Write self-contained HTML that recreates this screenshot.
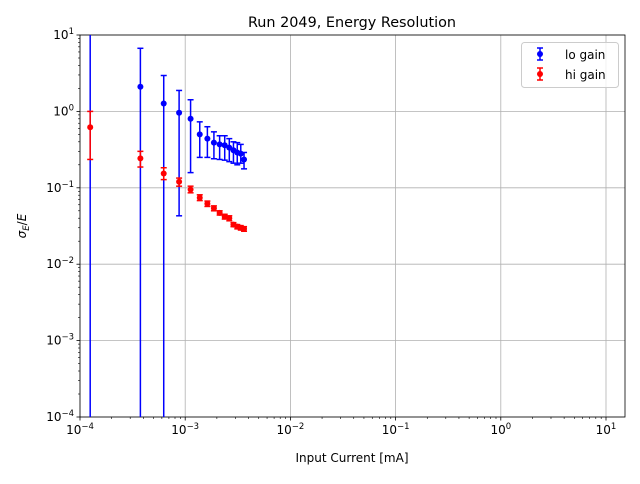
<!DOCTYPE html>
<html><head><meta charset="utf-8"><style>
body{margin:0;background:#fff;font-family:"DejaVu Sans","Liberation Sans",sans-serif}
svg text{font-family:"DejaVu Sans","Liberation Sans",sans-serif}
</style></head><body>
<svg id="c" width="640" height="480" xmlns="http://www.w3.org/2000/svg"></svg>
<script>
const xVals=[0.000125,0.000375,0.000625,0.000875,0.001125,0.001375,0.001625,0.001875,0.002125,0.002375,0.002625,0.002875,0.003125,0.003375,0.003625];
const loVals=[15,2.1,1.27,0.96,0.80,0.50,0.44,0.39,0.37,0.36,0.335,0.31,0.29,0.28,0.235];
const loUp=[30,6.7,2.95,1.88,1.42,0.73,0.63,0.54,0.48,0.48,0.44,0.40,0.39,0.37,0.29];
const loDn=[0.00001,0.00001,0.00001,0.043,0.158,0.25,0.25,0.24,0.235,0.23,0.22,0.21,0.2,0.21,0.177];
const hiVals=[0.62,0.243,0.154,0.12,0.095,0.074,0.062,0.054,0.047,0.042,0.040,0.033,0.031,0.030,0.029];
const hiUp=[1.0,0.30,0.183,0.134,0.105,0.081,0.067,0.058,0.050,0.045,0.043,0.035,0.033,0.032,0.031];
const hiDn=[0.235,0.187,0.128,0.105,0.086,0.068,0.057,0.050,0.044,0.039,0.037,0.031,0.029,0.028,0.027];
const xTickExp=[-4,-3,-2,-1,0,1];
const yTickExp=[1,0,-1,-2,-3,-4];
const L=80,R=625,T=35,B=417,DX=105.2;
const X=v=>L+(Math.log10(v)+4)*DX;
const Y=v=>B-(Math.log10(v)+4)*(B-T)/5;
const s=document.getElementById('c'),NS='http://www.w3.org/2000/svg';
function el(t,a,p){const e=document.createElementNS(NS,t);for(const k in a)e.setAttribute(k,a[k]);(p||s).appendChild(e);return e;}
const defs=el('defs',{});const cp=el('clipPath',{id:'pc'},defs);el('rect',{x:L,y:T,width:R-L,height:B-T},cp);
const grid=el('g',{});


xTickExp.forEach(e=>{const x=X(Math.pow(10,e));el('line',{x1:x,x2:x,y1:T,y2:B,stroke:'#b0b0b0','stroke-width':0.8},grid);});
yTickExp.forEach(e=>{const y=Y(Math.pow(10,e));el('line',{x1:L,x2:R,y1:y,y2:y,stroke:'#b0b0b0','stroke-width':0.8},grid);});
// minor ticks
const ax=el('g',{});


for(let e=-4;e<=1;e++){for(let m=2;m<=9;m++){const v=m*Math.pow(10,e);const x=X(v);if(x<R){el('line',{x1:x,x2:x,y1:B,y2:B+2,stroke:'#000','stroke-width':0.6},ax);}
 if(e<1){const y=Y(v);el('line',{x1:L,x2:L-2,y1:y,y2:y,stroke:'#000','stroke-width':0.6},ax);}}}
function sup(g,x,y,anchor,e){const t=el('text',{x:x,y:y,'font-size':12,'text-anchor':anchor},g);t.textContent='10';const ts=el('tspan',{dy:-5,'font-size':8.5},t);ts.textContent=String(e).replace('-','−');return t;}
xTickExp.forEach(e=>{const x=X(Math.pow(10,e));el('line',{x1:x,x2:x,y1:B,y2:B+3.5,stroke:'#000','stroke-width':0.8},ax);const t=sup(ax,x,B+17,'middle',e);

});
yTickExp.forEach(e=>{const y=Y(Math.pow(10,e));el('line',{x1:L,x2:L-3.5,y1:y,y2:y,stroke:'#000','stroke-width':0.8},ax);const t=sup(ax,L-6,y+4,'end',e);

});
function series(vals,up,dn,col,name){const g=el('g',{'clip-path':'url(#pc)'});


vals.forEach((v,i)=>{const x=X(xVals[i]);const y1=Y(up[i]),y2=Y(dn[i]);
el('line',{x1:x,x2:x,y1:y1,y2:y2,stroke:col,'stroke-width':1.5},g);
el('line',{x1:x-3,x2:x+3,y1:y1,y2:y1,stroke:col,'stroke-width':1.5},g);
el('line',{x1:x-3,x2:x+3,y1:y2,y2:y2,stroke:col,'stroke-width':1.5},g);
const c=el('circle',{cx:x,cy:Y(v),r:3,fill:col},g);

});}
series(loVals,loUp,loDn,'#0000ff','lo-gain-series');
series(hiVals,hiUp,hiDn,'#ff0000','hi-gain-series');
el('rect',{x:L,y:T,width:R-L,height:B-T,fill:'none',stroke:'#000','stroke-width':0.8},ax);
</script>
<svg style="position:absolute;left:0;top:0" width="640" height="480">
<text x="352" y="27" font-size="14.4" text-anchor="middle">Run 2049, Energy Resolution</text>
<text x="352" y="462" font-size="12" text-anchor="middle">Input Current [mA]</text>
<text transform="translate(26,226) rotate(-90)" font-size="12" text-anchor="middle"><tspan font-style="italic">σ</tspan><tspan font-size="8.5" dy="3" font-style="italic">E</tspan><tspan dy="-3">/</tspan><tspan font-style="italic">E</tspan></text>
<g>
<rect x="521.5" y="42.5" width="97" height="45" rx="3" fill="#fff" fill-opacity="0.8" stroke="#ccc"/>
<g>
<line x1="540" x2="540" y1="48" y2="60" stroke="#0000ff" stroke-width="1.5"/><line x1="537" x2="543" y1="48" y2="48" stroke="#0000ff" stroke-width="1.5"/><line x1="537" x2="543" y1="60" y2="60" stroke="#0000ff" stroke-width="1.5"/><circle cx="540" cy="54" r="3" fill="#0000ff"/>
<text x="565" y="59" font-size="12">lo gain</text></g>
<g>
<line x1="540" x2="540" y1="68" y2="80" stroke="#ff0000" stroke-width="1.5"/><line x1="537" x2="543" y1="68" y2="68" stroke="#ff0000" stroke-width="1.5"/><line x1="537" x2="543" y1="80" y2="80" stroke="#ff0000" stroke-width="1.5"/><circle cx="540" cy="74" r="3" fill="#ff0000"/>
<text x="565" y="79" font-size="12">hi gain</text></g>
</g>
</svg>
</body></html>
